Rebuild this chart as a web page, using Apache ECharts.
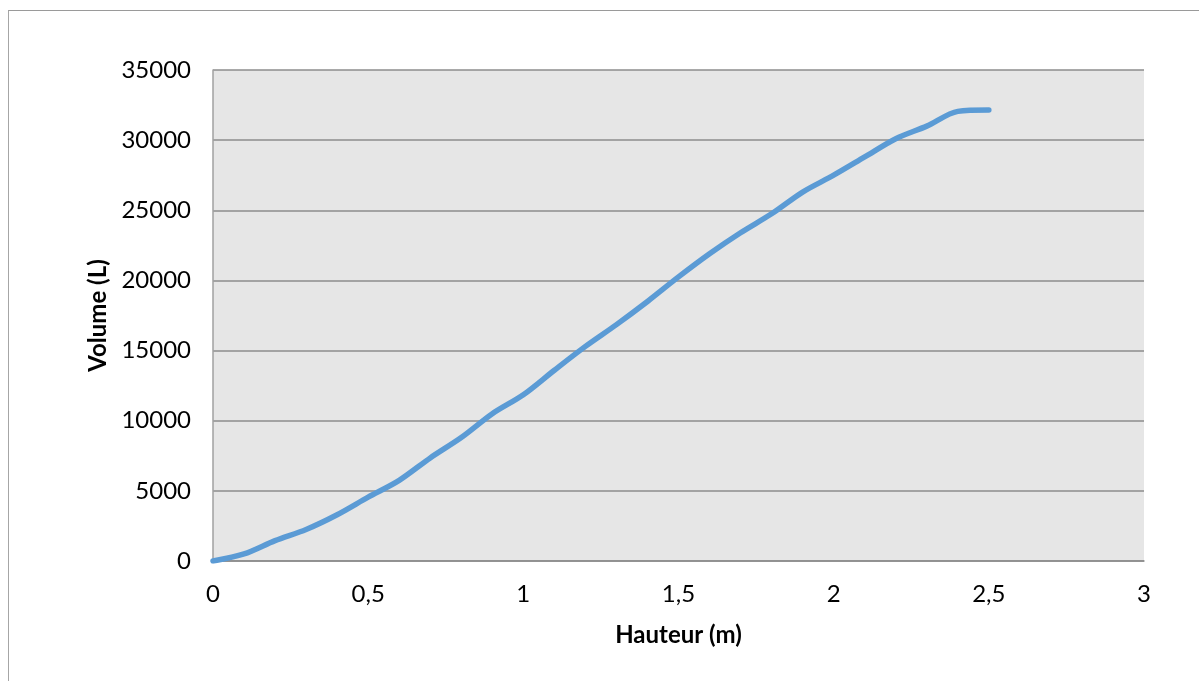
<!DOCTYPE html>
<html>
<head>
<meta charset="utf-8">
<script src="https://cdn.jsdelivr.net/npm/echarts@6/dist/echarts.min.js"></script>
<style>
  html, body { margin: 0; padding: 0; background: #fff; }
  #frame { position: absolute; left: 8px; top: 10px; width: 1300px; height: 800px;
           border-top: 1.5px solid #9a9a9a; border-left: 1.5px solid #a6a6a6; }
  #chart { position: absolute; left: 0; top: 0; width: 1199px; height: 681px; }
</style>
</head>
<body>
<div id="frame"></div>
<div id="chart"></div>
<script>
// Filling curve of the tank: volume against water height
const hauteur = [0, 0.1, 0.2, 0.3, 0.4, 0.5, 0.6, 0.7, 0.8, 0.9, 1.0, 1.1, 1.2,
                 1.3, 1.4, 1.5, 1.6, 1.7, 1.8, 1.9, 2.0, 2.1, 2.2, 2.3, 2.4, 2.5];
const volume = [0, 500, 1450, 2250, 3300, 4550, 5750, 7350, 8800, 10500, 11850, 13600, 15300,
                16850, 18500, 20250, 21900, 23400, 24750, 26300, 27500, 28800, 30100, 31000, 32050, 32150];

const xTitle = 'Hauteur (m)';
const yTitle = 'Volume (L)';

const font = 'Lato, "Open Sans", sans-serif';
const chart = echarts.init(document.getElementById('chart'), null, { renderer: 'canvas' });

chart.setOption({
  animation: false,
  grid: {
    left: 213, top: 70, right: 55, bottom: 120,
    show: true, backgroundColor: '#e6e6e6', borderWidth: 0
  },
  xAxis: {
    type: 'value', min: 0, max: 3, interval: 0.5,
    name: xTitle, nameLocation: 'middle', nameGap: 62,
    nameTextStyle: { fontFamily: font, fontWeight: 'bold', fontSize: 24, color: '#000' },
    axisLine: { show: true, lineStyle: { color: '#8c8c8c', width: 1.5 } },
    axisTick: { show: false },
    splitLine: { show: false },
    axisLabel: {
      margin: 21, fontFamily: font, fontSize: 24, color: '#000',
      formatter: v => String(v).replace('.', ',')
    }
  },
  yAxis: {
    type: 'value', min: 0, max: 35000, interval: 5000,
    name: yTitle, nameLocation: 'middle', nameGap: 101, nameRotate: 90,
    nameTextStyle: { fontFamily: font, fontWeight: 'bold', fontSize: 24, color: '#000' },
    axisLine: { show: true, lineStyle: { color: '#a0a0a0', width: 1.5 } },
    axisTick: { show: false },
    splitLine: { show: true, lineStyle: { color: '#8c8c8c', width: 1.5 } },
    axisLabel: { margin: 22, fontFamily: font, fontSize: 24, color: '#000',
                 formatter: v => String(v) }
  },
  series: [{
    type: 'line',
    data: hauteur.map((h, i) => [h, volume[i]]),
    smooth: 0.3,
    showSymbol: false,
    lineStyle: { color: '#5b9bd5', width: 5.5, cap: 'round', join: 'round' }
  }]
});
</script>
</body>
</html>
